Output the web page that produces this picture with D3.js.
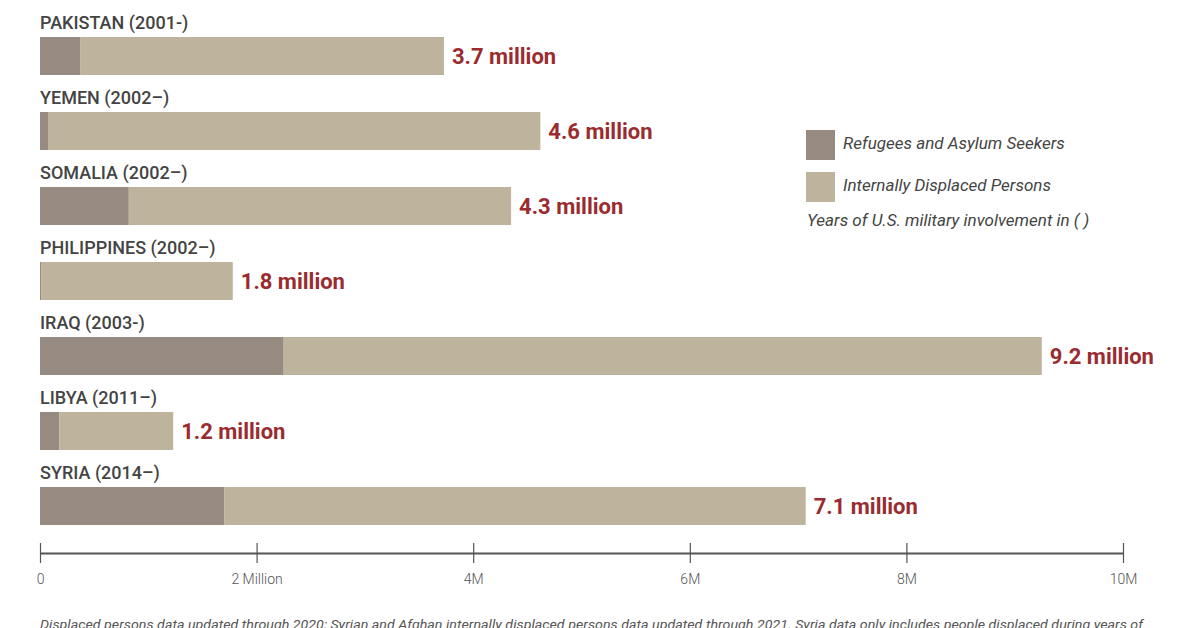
<!DOCTYPE html>
<html>
<head>
<meta charset="utf-8">
<script src="https://cdn.jsdelivr.net/npm/d3@7"></script>
<style>
  body { margin: 0; background: #fff; }
  svg { display: block; font-family: Roboto, "Noto Sans", sans-serif; }
</style>
</head>
<body>
<div id="chart"></div>
<script>
// data (millions of people)
const countries = ['AFGHANISTAN (2001–2021)', 'PAKISTAN (2001-)', 'YEMEN (2002–)', 'SOMALIA (2002–)',
    'PHILIPPINES (2002–)', 'IRAQ (2003-)', 'LIBYA (2011–)', 'SYRIA (2014–)'];
const refugees = [2.08, 0.37, 0.08, 0.82, 0.01, 2.25, 0.18, 1.70];
const idps = [3.90, 3.36, 4.54, 3.53, 1.77, 7.00, 1.05, 5.37];
const totalLabels = ['5.9 million', '3.7 million', '4.6 million', '4.3 million',
    '1.8 million', '9.2 million', '1.2 million', '7.1 million'];
const tickValues = [0, 2, 4, 6, 8, 10];
const tickLabels = ['0', '2 Million', '4M', '6M', '8M', '10M'];
const legendLabels = ['Refugees and Asylum Seekers', 'Internally Displaced Persons'];

let width = 1200,
    height = 628,
    darkColor = '#978a80',
    lightColor = '#beb49d',
    red = '#9a2c30',
    textColor = '#444';

const rows = countries.map(function(c, i) {
    return { name: c, ref: refugees[i], idp: idps[i], label: totalLabels[i] };
});

let x = d3.scaleLinear()
    .domain([0, 10])
    .range([40, 1123]);

// the chart is cropped: first row sits above the visible area
let y = d3.scaleBand()
    .domain(countries)
    .range([-38, -38 + 75 * 8 - 37])
    .paddingInner(37 / 75);

const svg = d3.select('#chart')
    .append('svg')
        .attr('width', width)
        .attr('height', height);

const row = svg.selectAll('g.row')
    .data(rows)
    .enter().append('g')
        .attr('class', 'row');

// refugees segment
row.append('rect')
    .attr('x', x(0))
    .attr('y', function(d) { return y(d.name); })
    .attr('width', function(d) { return x(d.ref) - x(0); })
    .attr('height', y.bandwidth())
    .style('fill', darkColor);

// internally displaced segment
row.append('rect')
    .attr('x', function(d) { return x(d.ref); })
    .attr('y', function(d) { return y(d.name); })
    .attr('width', function(d) { return x(d.ref + d.idp) - x(d.ref); })
    .attr('height', y.bandwidth())
    .style('fill', lightColor);

// labels only for rows inside the crop
const labelled = row.filter(function(d) { return y(d.name) > 0; });

// country label
labelled.append('text')
    .attr('x', x(0))
    .attr('y', function(d) { return y(d.name) - 8; })
    .attr('font-size', 18)
    .attr('font-weight', 500)
    .style('fill', textColor)
    .text(function(d) { return d.name; });

// total label
labelled.append('text')
    .attr('x', function(d) { return x(d.ref + d.idp) + 8; })
    .attr('y', function(d) { return y(d.name) + y.bandwidth() / 2 + 8; })
    .attr('font-size', 22)
    .attr('font-weight', 700)
    .style('fill', red)
    .text(function(d) { return d.label; });

// axis
const axis = svg.append('g')
    .attr('transform', 'translate(0,553)')
    .call(d3.axisBottom(x)
        .tickValues(tickValues)
        .tickSize(10)
        .tickSizeOuter(0)
        .tickPadding(11)
        .tickFormat(function(d, i) { return tickLabels[i]; }));

axis.select('.domain')
    .attr('stroke', '#555')
    .attr('stroke-width', 2);
axis.selectAll('.tick line')
    .attr('stroke', '#555')
    .attr('stroke-width', 1.2)
    .attr('y1', -10);
axis.selectAll('.tick text')
    .attr('font-family', 'Roboto')
    .attr('font-size', 14)
    .attr('font-weight', 300)
    .style('fill', '#555');

// legend
const legend = svg.append('g')
    .attr('transform', 'translate(806,130)');

legend.selectAll('rect')
    .data(legendLabels)
    .enter().append('rect')
        .attr('x', 0)
        .attr('y', function(d, i) { return i * 42; })
        .attr('width', 29)
        .attr('height', 30)
        .style('fill', function(d, i) { return i === 0 ? darkColor : lightColor; });

legend.selectAll('text.item')
    .data(legendLabels)
    .enter().append('text')
        .attr('class', 'item')
        .attr('x', 37)
        .attr('y', function(d, i) { return 19 + i * 42; })
        .attr('font-size', 17)
        .attr('font-style', 'italic')
        .style('fill', textColor)
        .text(function(d) { return d; });

legend.append('text')
    .attr('x', 1)
    .attr('y', 96)
    .attr('font-size', 17)
    .attr('font-style', 'italic')
    .style('fill', textColor)
    .text('Years of U.S. military involvement in ( )');

// footnote (cropped at the bottom)
svg.append('text')
    .attr('x', 40)
    .attr('y', 629)
    .attr('font-size', 13)
    .attr('font-style', 'italic')
    .attr('textLength', 1103)
    .attr('lengthAdjust', 'spacingAndGlyphs')
    .style('fill', '#555')
    .text('Displaced persons data updated through 2020; Syrian and Afghan internally displaced persons data updated through 2021. Syria data only includes people displaced during years of');
</script>
</body>
</html>
